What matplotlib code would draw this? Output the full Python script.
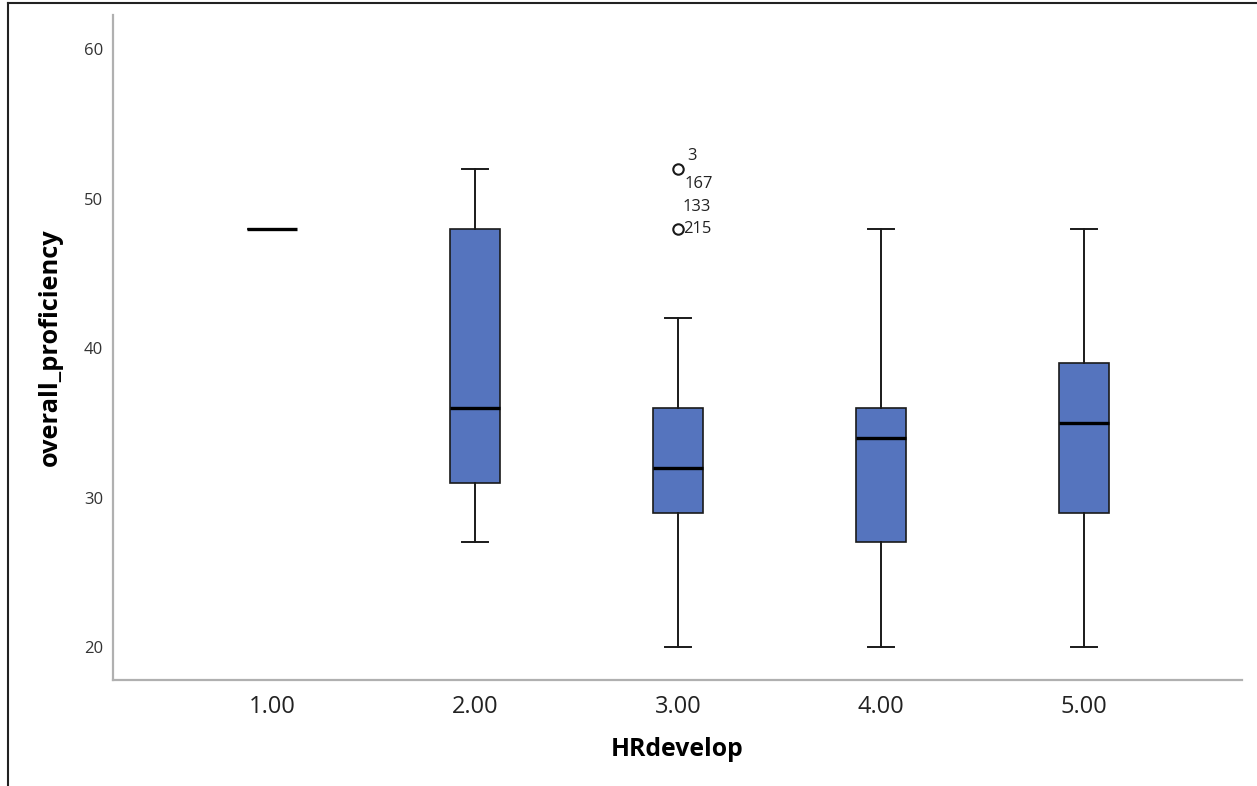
import matplotlib
matplotlib.use("Agg")
import matplotlib.pyplot as plt
from matplotlib.lines import Line2D

plt.rcParams['font.family'] = ['Open Sans', 'DejaVu Sans']

# Boxplot summary per HRdevelop level
categories = ["1.00", "2.00", "3.00", "4.00", "5.00"]
whisker_low = [48, 27, 20, 20, 20]
q1 = [48, 31, 29, 27, 29]
median = [48, 36, 32, 34, 35]
q3 = [48, 48, 36, 36, 39]
whisker_high = [48, 52, 42, 48, 48]

# Outliers for level 3.00 with their case numbers
outlier_group = 3
outlier_values = [52, 48]
outlier_cases = [["3", "167"], ["133", "215"]]

box_color = "#5574be"
positions = list(range(1, len(categories) + 1))

stats = []
for i, cat in enumerate(categories):
    fl = outlier_values if positions[i] == outlier_group else []
    stats.append(dict(label=cat, whislo=whisker_low[i], q1=q1[i], med=median[i],
                      q3=q3[i], whishi=whisker_high[i], fliers=fl))

fig = plt.figure(figsize=(12.57, 7.86), dpi=100)
ax = fig.add_axes([0.0899, 0.1349, 0.8981, 0.846])

ax.bxp(stats, positions=positions, widths=0.25, patch_artist=True,
       boxprops=dict(facecolor=box_color, edgecolor="#1a1a1a", linewidth=1.2),
       medianprops=dict(color="black", linewidth=2.4, solid_capstyle="butt"),
       whiskerprops=dict(color="#1a1a1a", linewidth=1.4),
       capprops=dict(color="#1a1a1a", linewidth=1.4),
       capwidths=0.13,
       flierprops=dict(marker="o", markersize=7.5, markerfacecolor="none",
                       markeredgecolor="#1a1a1a", markeredgewidth=1.5))

# Case-number labels beside the outliers
label_offsets = [[(6.5, 9.5), (4.5, -11)], [(3, 15.5), (3.5, 0)]]
for val, cases, offs in zip(outlier_values, outlier_cases, label_offsets):
    for case, off in zip(cases, offs):
        ax.annotate(case, (outlier_group, val), xytext=off, textcoords="offset points",
                    fontsize=12, color="#222222", ha="left", va="center")

ax.set_xlim(0.217, 5.778)
ax.set_ylim(17.8, 62.3)
ax.set_yticks([20, 30, 40, 50, 60])
ax.set_xticks(positions)
ax.set_xticklabels(categories)

ax.tick_params(axis="y", length=0, pad=7, labelsize=12, labelcolor="#333333")
ax.tick_params(axis="x", length=0, pad=11, labelsize=17, labelcolor="#222222")

for side in ["top", "right"]:
    ax.spines[side].set_visible(False)
for side in ["left", "bottom"]:
    ax.spines[side].set_color("#b0b0b0")
    ax.spines[side].set_linewidth(1.6)

ax.set_xlabel("HRdevelop", fontsize=17.8, fontweight="bold", labelpad=13)
ax.set_ylabel("overall_proficiency", fontsize=18.3, fontweight="bold", labelpad=15)

# Outer frame lines along the top and left edges
fig.add_artist(Line2D([8 / 1257, 1.0], [1 - 3 / 786, 1 - 3 / 786],
                      transform=fig.transFigure, color="#222222", linewidth=1.5))
fig.add_artist(Line2D([8 / 1257, 8 / 1257], [0.0, 1 - 3 / 786],
                      transform=fig.transFigure, color="#222222", linewidth=1.5))

fig.savefig("out.png", dpi=100)
